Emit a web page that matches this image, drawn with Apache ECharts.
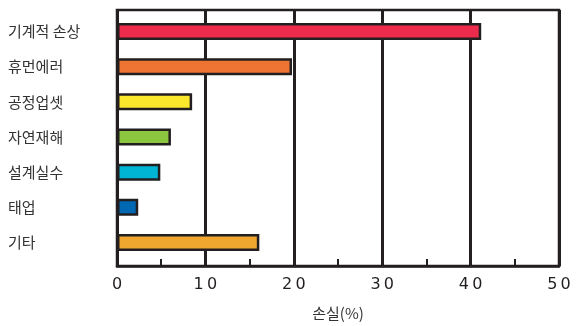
<head>
    <meta charset="utf-8">
    <script src="https://cdn.jsdelivr.net/npm/echarts@6/dist/echarts.min.js"></script>
    <style>
        body { margin: 0; background: #fff; }
    </style>
</head>
<body>
<div id="main" style="width:577px;height:326px"></div>
<script>
    // 손실 원인별 비율 (%)
    var categories = ['기계적 손상', '휴먼에러', '공정업셋', '자연재해', '설계실수', '태업', '기타'];
    var lossPct = [41.2, 19.8, 8.5, 6.1, 4.9, 2.4, 16.1];
    var barColors = ['#ED2B4D', '#EE7433', '#FBE72B', '#8CC63F', '#00B4D4', '#0067B3', '#F0A72F'];

    var ink = '#231f20';
    var myChart = echarts.init(document.getElementById('main'));
    var option = {
        animation: false,
        grid: [
            // frame + gridlines
            { left: 117, right: 18, top: 10, bottom: 58, show: true, borderColor: ink, borderWidth: 2.5 },
            // bars
            { left: 117, right: 18, top: 14, bottom: 66 }
        ],
        xAxis: [
            {
                gridIndex: 0, type: 'value', min: 0, max: 50, interval: 10,
                name: '손실(%)', nameLocation: 'middle', nameGap: 40,
                nameTextStyle: { fontSize: 15, color: '#333', fontFamily: 'Noto Sans CJK KR' },
                axisLine: { show: true, lineStyle: { color: ink, width: 2.5 } },
                axisTick: { show: false, inside: true },
                minorTick: { show: true, splitNumber: 2, length: 7, lineStyle: { color: ink, width: 2 } },
                splitLine: { show: true, lineStyle: { color: ink, width: 3 } },
                axisLabel: {
                    margin: 11, fontSize: 16, color: ink, fontFamily: 'DejaVu Sans',
                    formatter: function (v) { return String(v).split('').join('\u2009'); }
                }
            },
            { gridIndex: 1, type: 'value', min: 0, max: 50, show: false }
        ],
        yAxis: [
            { gridIndex: 0, type: 'value', show: false },
            {
                gridIndex: 1, type: 'category', inverse: true, data: categories,
                axisLine: { show: false },
                axisTick: { show: false },
                axisLabel: {
                    align: 'left', margin: 109, fontSize: 15, color: '#333',
                    fontFamily: 'Noto Sans CJK KR'
                }
            }
        ],
        series: [
            {
                type: 'bar', xAxisIndex: 1, yAxisIndex: 1, barWidth: 17,
                data: lossPct.map(function (v, i) {
                    return { value: v, itemStyle: { color: barColors[i] } };
                }),
                itemStyle: { borderColor: ink, borderWidth: 2.5 }
            }
        ]
    };
    myChart.setOption(option);
</script>
</body>
